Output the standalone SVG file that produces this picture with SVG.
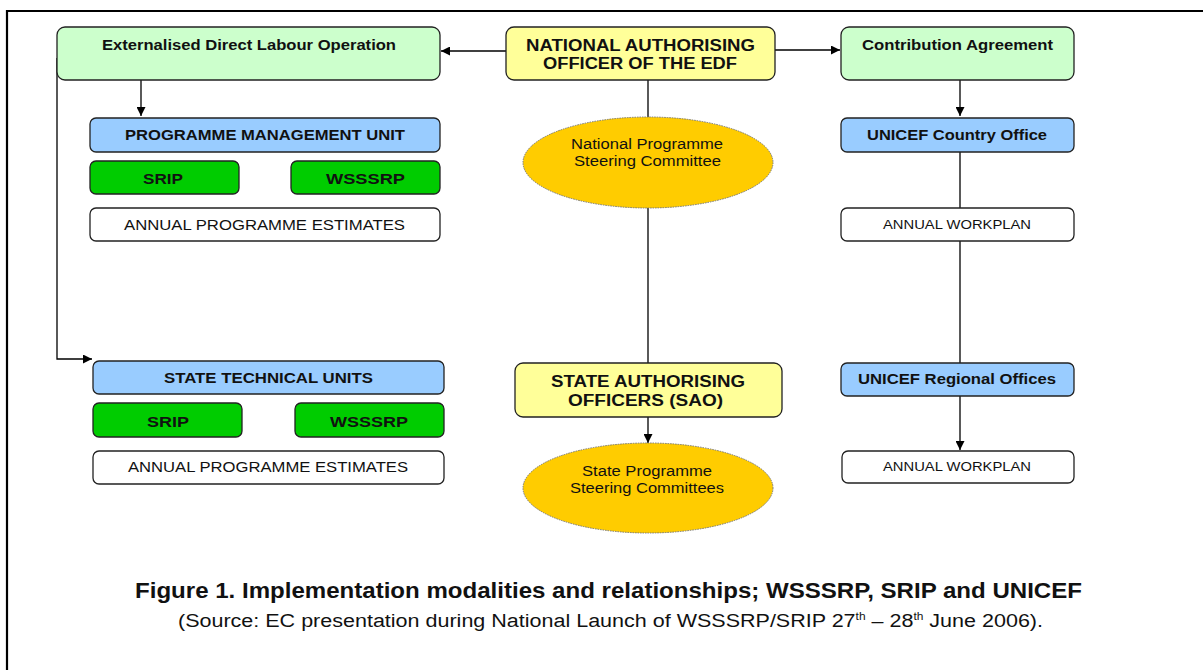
<svg xmlns="http://www.w3.org/2000/svg" width="1203" height="670" viewBox="0 0 1203 670">
<defs>
<marker id="ah" viewBox="0 0 10 10" refX="10" refY="5" markerWidth="9" markerHeight="9" markerUnits="userSpaceOnUse" orient="auto"><path d="M0,0 L10,5 L0,10 z" fill="#000"/></marker>
</defs>
<style>
.box{stroke:#222;stroke-width:1.3}
.green{fill:#CCFFCC}
.blue{fill:#99CCFF}
.dgreen{fill:#00CC00}
.yellow{fill:#FFFF99}
.white{fill:#FFFFFF}
.ell{fill:#FFCC00;stroke:#777;stroke-width:1;stroke-dasharray:1.5 1}
text{font-family:"Liberation Sans",Arial,sans-serif;fill:#111;text-anchor:middle}
.b{font-weight:bold}
.s14{font-size:14px}
.s15{font-size:15px}
.s16{font-size:16px}
.s13{font-size:13px}
.conn{stroke:#000;stroke-width:1.3;fill:none}
.arr{marker-end:url(#ah)}
</style>
<rect x="0" y="0" width="1203" height="670" fill="#FFFFFF"/>
<path d="M7,670 V11 H1203" stroke="#000" stroke-width="2.2" fill="none"/>

<g id="connectors">
<path class="conn arr" d="M506,51 H441"/>
<path class="conn arr" d="M775,50 H840"/>
<path class="conn arr" d="M141,80 V116"/>
<path class="conn arr" d="M57,58 V359 H92"/>
<path class="conn" d="M648,80 V117"/>
<path class="conn" d="M648,208 V363"/>
<path class="conn arr" d="M648,417 V443"/>
<path class="conn arr" d="M960,80 V116"/>
<path class="conn" d="M960,152 V208"/>
<path class="conn" d="M960,241 V363"/>
<path class="conn arr" d="M960,396 V450"/>
</g>

<g id="edlo">
<rect class="box green" x="57" y="27" width="383" height="53" rx="8"/>
<text class="b s14" x="249" y="50" textLength="294" lengthAdjust="spacingAndGlyphs">Externalised Direct Labour Operation</text>
</g>
<g id="pmu">
<rect class="box blue" x="90" y="118" width="350" height="34" rx="6"/>
<text class="b s14" x="265" y="140" textLength="280" lengthAdjust="spacingAndGlyphs">PROGRAMME MANAGEMENT UNIT</text>
</g>
<g id="srip1">
<rect class="box dgreen" x="90" y="161" width="149" height="33" rx="6"/>
<text class="b s15" x="163" y="184" textLength="40" lengthAdjust="spacingAndGlyphs">SRIP</text>
</g>
<g id="wsssrp1">
<rect class="box dgreen" x="291" y="161" width="149" height="33" rx="6"/>
<text class="b s15" x="365.5" y="184" textLength="79" lengthAdjust="spacingAndGlyphs">WSSSRP</text>
</g>
<g id="ape1">
<rect class="box white" x="90" y="208" width="350" height="33" rx="6"/>
<text class="s14" x="264.5" y="230" textLength="281" lengthAdjust="spacingAndGlyphs">ANNUAL PROGRAMME ESTIMATES</text>
</g>

<g id="stu">
<rect class="box blue" x="93" y="361" width="351" height="33" rx="6"/>
<text class="b s14" x="268.5" y="383" textLength="209" lengthAdjust="spacingAndGlyphs">STATE TECHNICAL UNITS</text>
</g>
<g id="srip2">
<rect class="box dgreen" x="93" y="403" width="149" height="34" rx="6"/>
<text class="b s15" x="168" y="427" textLength="42" lengthAdjust="spacingAndGlyphs">SRIP</text>
</g>
<g id="wsssrp2">
<rect class="box dgreen" x="295" y="403" width="149" height="34" rx="6"/>
<text class="b s15" x="369" y="427" textLength="78" lengthAdjust="spacingAndGlyphs">WSSSRP</text>
</g>
<g id="ape2">
<rect class="box white" x="93" y="451" width="351" height="33" rx="6"/>
<text class="s14" x="268" y="472" textLength="280" lengthAdjust="spacingAndGlyphs">ANNUAL PROGRAMME ESTIMATES</text>
</g>

<g id="nao">
<rect class="box yellow" x="506" y="27" width="269" height="53" rx="8"/>
<text class="b s16" x="640.5" y="51" textLength="229" lengthAdjust="spacingAndGlyphs">NATIONAL AUTHORISING</text>
<text class="b s16" x="640" y="69" textLength="194" lengthAdjust="spacingAndGlyphs">OFFICER OF THE EDF</text>
</g>
<g id="npsc">
<ellipse class="ell" cx="648" cy="162.5" rx="125" ry="45.5"/>
<text class="s14" x="647" y="149" textLength="152" lengthAdjust="spacingAndGlyphs">National Programme</text>
<text class="s14" x="647.5" y="166" textLength="147" lengthAdjust="spacingAndGlyphs">Steering Committee</text>
</g>
<g id="sao">
<rect class="box yellow" x="515" y="363" width="267" height="54" rx="8"/>
<text class="b s16" x="648" y="387" textLength="194" lengthAdjust="spacingAndGlyphs">STATE AUTHORISING</text>
<text class="b s16" x="645.5" y="406" textLength="155" lengthAdjust="spacingAndGlyphs">OFFICERS (SAO)</text>
</g>
<g id="spsc">
<ellipse class="ell" cx="648" cy="488" rx="125" ry="45"/>
<text class="s14" x="647" y="476" textLength="130" lengthAdjust="spacingAndGlyphs">State Programme</text>
<text class="s14" x="647" y="493" textLength="154" lengthAdjust="spacingAndGlyphs">Steering Committees</text>
</g>

<g id="ca">
<rect class="box green" x="841" y="27" width="233" height="53" rx="8"/>
<text class="b s14" x="957.5" y="50" textLength="191" lengthAdjust="spacingAndGlyphs">Contribution Agreement</text>
</g>
<g id="uco">
<rect class="box blue" x="841" y="118" width="233" height="34" rx="6"/>
<text class="b s14" x="957" y="140" textLength="180" lengthAdjust="spacingAndGlyphs">UNICEF Country Office</text>
</g>
<g id="aw1">
<rect class="box white" x="841" y="208" width="233" height="33" rx="6"/>
<text class="s13" x="957" y="229" textLength="148" lengthAdjust="spacingAndGlyphs">ANNUAL WORKPLAN</text>
</g>
<g id="uro">
<rect class="box blue" x="841" y="363" width="233" height="33" rx="6"/>
<text class="b s14" x="957" y="384" textLength="198" lengthAdjust="spacingAndGlyphs">UNICEF Regional Offices</text>
</g>
<g id="aw2">
<rect class="box white" x="842" y="451" width="232" height="32" rx="6"/>
<text class="s13" x="957" y="471" textLength="148" lengthAdjust="spacingAndGlyphs">ANNUAL WORKPLAN</text>
</g>

<g id="caption">
<text class="b" style="font-size:22px;text-anchor:start" x="135" y="598" textLength="947" lengthAdjust="spacingAndGlyphs">Figure 1. Implementation modalities and relationships; WSSSRP, SRIP and UNICEF</text>
<text style="font-size:18px;text-anchor:start" x="178" y="627" textLength="865" lengthAdjust="spacingAndGlyphs">(Source: EC presentation during National Launch of WSSSRP/SRIP 27<tspan dy="-7" style="font-size:10px">th</tspan><tspan dy="7"> – 28</tspan><tspan dy="-7" style="font-size:10px">th</tspan><tspan dy="7"> June 2006).</tspan></text>
</g>
</svg>
